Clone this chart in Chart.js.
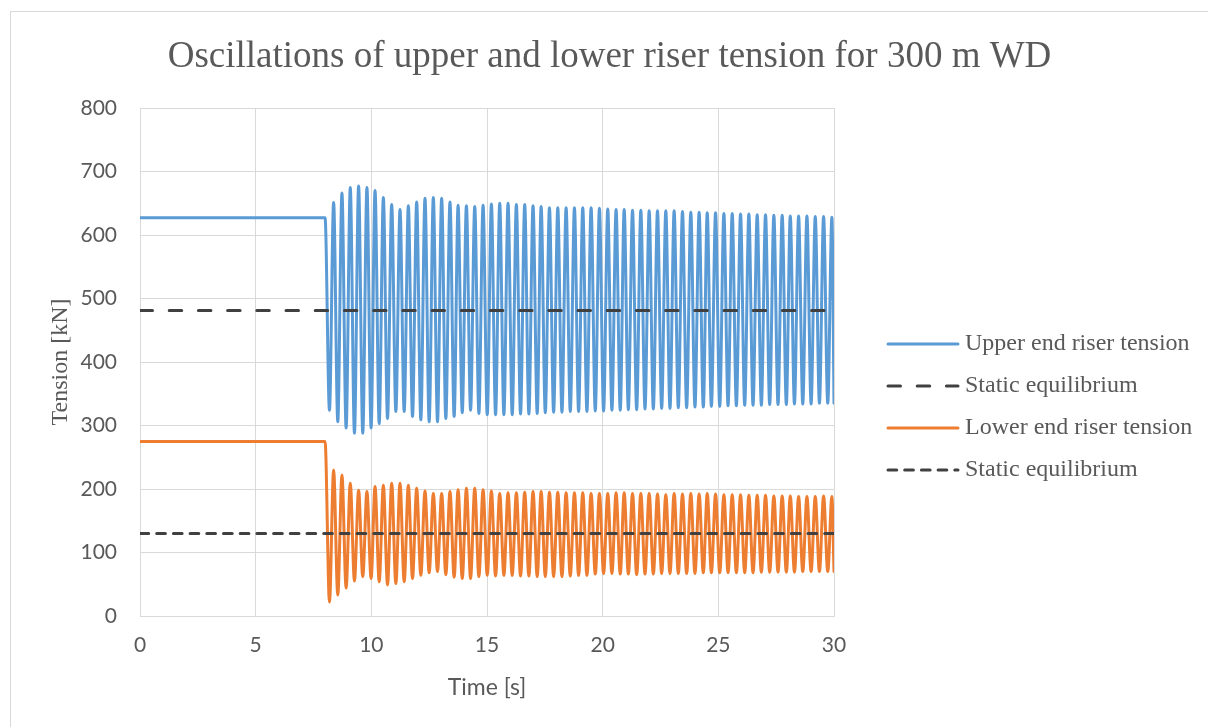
<!DOCTYPE html>
<html>
<head>
<meta charset="utf-8">
<script src="https://cdn.jsdelivr.net/npm/chart.js@4.4.1/dist/chart.umd.min.js"></script>
<style>
  html, body { margin: 0; padding: 0; background: #ffffff; }
  #frame { position: absolute; left: 10px; top: 11px; width: 1210px; height: 730px; border: 1px solid #d9d9d9; background: #fff; }
  #c { position: absolute; left: 0; top: 0; }
</style>
</head>
<body>
<div id="frame"><canvas id="c" width="1197" height="715"></canvas></div>
<script>
// ---- data ----
const titleText = 'Oscillations of upper and lower riser tension for 300 m WD';
const xTitle = 'Time [s]';
const yTitle = 'Tension [kN]';
const seriesNames = ['Upper end riser tension', 'Static equilibrium', 'Lower end riser tension', 'Static equilibrium'];

// before the release at t = 8 s both tensions are constant
const preTimes = [0, 8.0];
const upperInitial = [627, 627];
const lowerInitial = [275, 275];

// static equilibrium levels
const staticTimes = [0, 30];
const upperStatic = [481, 481];
const lowerStatic = [130, 130];

// times of the oscillation troughs and peaks [s]
const troughTimes = [8.19, 8.55, 8.91, 9.27, 9.63, 9.99, 10.34, 10.70, 11.06, 11.42, 11.78, 12.14, 12.50, 12.86, 13.22, 13.58, 13.93, 14.29, 14.65, 15.01, 15.37, 15.73, 16.09, 16.45, 16.81, 17.17, 17.52, 17.88, 18.24, 18.60, 18.96, 19.32, 19.68, 20.04, 20.40, 20.76, 21.11, 21.47, 21.83, 22.19, 22.55, 22.91, 23.27, 23.63, 23.99, 24.35, 24.70, 25.06, 25.42, 25.78, 26.14, 26.50, 26.86, 27.22, 27.58, 27.94, 28.29, 28.65, 29.01, 29.37, 29.73, 30.00];
const peakTimes = [8.37, 8.73, 9.09, 9.45, 9.81, 10.16, 10.52, 10.88, 11.24, 11.60, 11.96, 12.32, 12.68, 13.04, 13.40, 13.75, 14.11, 14.47, 14.83, 15.19, 15.55, 15.91, 16.27, 16.63, 16.99, 17.34, 17.70, 18.06, 18.42, 18.78, 19.14, 19.50, 19.86, 20.22, 20.58, 20.93, 21.29, 21.65, 22.01, 22.37, 22.73, 23.09, 23.45, 23.81, 24.17, 24.52, 24.88, 25.24, 25.60, 25.96, 26.32, 26.68, 27.04, 27.40, 27.76, 28.11, 28.47, 28.83, 29.19, 29.55, 29.91];

// upper end riser tension [kN]
const upperTroughs = [324, 306, 296, 288, 288, 296, 303, 311, 322, 322,
  314, 309, 306, 306, 311, 314, 320, 324, 319, 317,
  317, 317, 317, 318, 318, 319, 320, 321, 321, 322,
  322, 322, 323, 323, 324, 324, 325, 325, 326, 326,
  327, 327, 328, 328, 329, 329, 330, 330, 331, 331,
  332, 332, 332, 333, 333, 333, 334, 334, 334, 335,
  335, 335];
const upperPeaks = [651, 666, 675, 677, 675, 670, 659, 648, 640, 646,
  652, 658, 659, 658, 652, 647, 646, 645, 647, 649,
  650, 650, 648, 648, 646, 645, 643, 643, 643, 643,
  643, 643, 642, 641, 640, 640, 639, 639, 638, 638,
  638, 638, 637, 636, 636, 635, 635, 634, 634, 633,
  633, 632, 632, 631, 631, 630, 630, 630, 629, 629,
  628];

// lower end riser tension [kN]
const lowerTroughs = [22, 33, 44, 55, 62, 59, 54, 49, 51, 54,
  59, 64, 68, 70, 65, 61, 59, 59, 62, 64,
  63, 64, 64, 63, 63, 62, 62, 62, 62, 63,
  64, 64, 66, 67, 67, 66, 66, 65, 66, 66,
  67, 67, 67, 67, 67, 68, 68, 68, 68, 68,
  68, 68, 69, 69, 69, 69, 69, 70, 70, 70,
  70, 70];
const lowerPeaks = [230, 222, 209, 198, 196, 204, 206, 209, 209, 206,
  201, 197, 193, 193, 196, 199, 201, 201, 199, 197,
  193, 194, 194, 195, 196, 196, 195, 195, 194, 194,
  194, 193, 193, 193, 194, 194, 193, 193, 193, 192,
  191, 193, 192, 193, 192, 193, 192, 191, 191, 191,
  190, 190, 190, 189, 189, 189, 188, 188, 188, 189,
  188];

const xTicks = { min: 0, max: 30, step: 5 };
const yTicks = { min: 0, max: 800, step: 100 };

// ---- build point lists ----
function buildSeries(initial, troughs, peaks) {
  const pts = preTimes.map((t, i) => ({ x: t, y: initial[i] }));
  troughTimes.forEach((t, i) => pts.push({ x: t, y: troughs[i] }));
  peakTimes.forEach((t, i) => pts.push({ x: t, y: peaks[i] }));
  pts.sort((a, b) => a.x - b.x);
  return pts;
}
const pairs = (xs, ys) => xs.map((x, i) => ({ x: x, y: ys[i] }));

const GREY = '#595959';
const SERIF = "'Liberation Serif', 'Times New Roman', serif";
const SANS = "Lato, 'Open Sans', sans-serif";

const legendPlugin = {
  id: 'sideLegend',
  afterDraw(chart) {
    const ctx = chart.ctx;
    const x0 = chart.chartArea.right + 54;
    const len = 70;
    const ys = [332, 374, 416, 458];
    ctx.save();
    chart.data.datasets.forEach((ds, i) => {
      const y = ys[i];
      ctx.beginPath();
      ctx.setLineDash(ds.borderDash || []);
      ctx.lineDashOffset = 0;
      ctx.lineCap = ds.borderCapStyle || 'butt';
      ctx.lineWidth = ds.borderWidth;
      ctx.strokeStyle = ds.borderColor;
      ctx.moveTo(x0, y);
      ctx.lineTo(x0 + len, y);
      ctx.stroke();
      ctx.setLineDash([]);
      ctx.fillStyle = GREY;
      ctx.font = '24px ' + SERIF;
      ctx.textBaseline = 'middle';
      ctx.textAlign = 'left';
      ctx.fillText(ds.label, x0 + len + 7, y);
    });
    ctx.restore();
  }
};

const ctx = document.getElementById('c').getContext('2d');
new Chart(ctx, {
  type: 'line',
  data: {
    datasets: [
      { label: seriesNames[0], data: buildSeries(upperInitial, upperTroughs, upperPeaks),
        borderColor: '#5B9BD5', borderWidth: 3, pointRadius: 0, cubicInterpolationMode: 'monotone', order: 1, borderCapStyle: 'round', borderJoinStyle: 'round' },
      { label: seriesNames[1], data: pairs(staticTimes, upperStatic),
        borderColor: '#404040', borderWidth: 3, pointRadius: 0, borderDash: [12.5, 16.7], borderCapStyle: 'round', order: 0 },
      { label: seriesNames[2], data: buildSeries(lowerInitial, lowerTroughs, lowerPeaks),
        borderColor: '#ED7D31', borderWidth: 3, pointRadius: 0, cubicInterpolationMode: 'monotone', order: 1, borderCapStyle: 'round', borderJoinStyle: 'round' },
      { label: seriesNames[3], data: pairs(staticTimes, lowerStatic),
        borderColor: '#404040', borderWidth: 3, pointRadius: 0, borderDash: [8.7, 8], borderCapStyle: 'round', order: 0 }
    ]
  },
  options: {
    responsive: false,
    animation: false,
    layout: { padding: 0 },
    plugins: {
      legend: { display: false },
      tooltip: { enabled: false },
      title: {
        display: true, text: titleText, color: GREY,
        font: { family: SERIF, size: 37, weight: 'normal' },
        padding: { top: 23, bottom: 28.6 }
      }
    },
    scales: {
      x: {
        type: 'linear', min: xTicks.min, max: xTicks.max,
        ticks: { stepSize: xTicks.step, color: GREY, font: { family: SANS, size: 21 }, padding: 17, maxRotation: 0 },
        grid: { color: '#d9d9d9', lineWidth: 1, drawTicks: false },
        border: { color: '#d9d9d9' },
        title: { display: true, text: xTitle, color: GREY, font: { family: SANS, size: 23 }, padding: { top: 0, bottom: 26 } },
        afterFit(s) { s.height = 111; }
      },
      y: {
        type: 'linear', min: yTicks.min, max: yTicks.max,
        ticks: { stepSize: yTicks.step, color: GREY, font: { family: SANS, size: 21 }, padding: 23 },
        grid: { color: '#d9d9d9', lineWidth: 1, drawTicks: false },
        border: { color: '#d9d9d9' },
        title: { display: true, text: yTitle, color: GREY, font: { family: SERIF, size: 24 }, padding: { top: 35, bottom: 0 } },
        afterFit(s) { s.width = 129; }
      },
      legendSpace: {
        type: 'linear', position: 'right', display: true,
        ticks: { display: false }, grid: { display: false }, border: { display: false },
        afterFit(s) { s.width = 374; }
      }
    }
  },
  plugins: [legendPlugin]
});
</script>
</body>
</html>
